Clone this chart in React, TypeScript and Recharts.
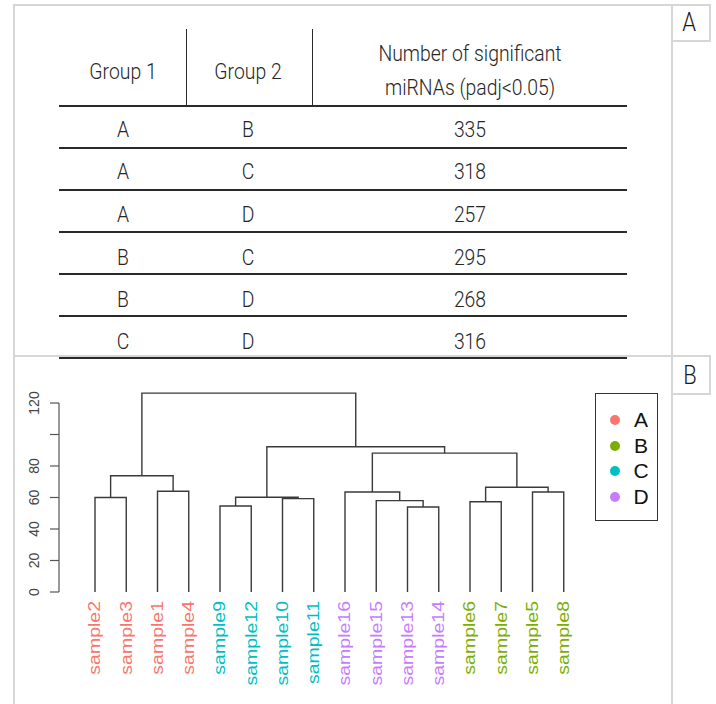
import React from "react";
import { LineChart, Line, XAxis, YAxis, ReferenceLine, Legend } from "recharts";

// ---------- Panel A: table data ----------
const group1 = ["A", "A", "A", "B", "B", "C"];
const group2 = ["B", "C", "D", "C", "D", "D"];
const sigCounts = [335, 318, 257, 295, 268, 316];

// ---------- Panel B: dendrogram data ----------
const leafLabels = [
  "sample2", "sample3", "sample1", "sample4",
  "sample9", "sample12", "sample10", "sample11",
  "sample16", "sample15", "sample13", "sample14",
  "sample6", "sample7", "sample5", "sample8",
];
const leafGroups = ["A", "A", "A", "A", "C", "C", "C", "C", "D", "D", "D", "D", "B", "B", "B", "B"];
const groupNames = ["A", "B", "C", "D"];
const groupColors = ["#F8766D", "#7CAE00", "#00BFC4", "#C77CFF"];

// merges (hclust style): left child, right child, height; "mN" = N-th merge
const mergeLeft = ["sample2", "sample1", "m1", "sample9", "sample10", "m4", "sample13", "sample15", "sample16", "sample6", "sample5", "m10", "m9", "m6", "m3"];
const mergeRight = ["sample3", "sample4", "m2", "sample12", "sample11", "m5", "sample14", "m7", "m8", "sample7", "sample8", "m11", "m12", "m13", "m14"];
const mergeHeight = [60, 64, 73.8, 54.6, 59.3, 60.2, 54, 58, 63.5, 57.3, 63.5, 66.5, 88.2, 92.2, 126.3];

const yTicks = [0, 20, 40, 60, 80, 100, 120];
const yTickLabels = ["0", "20", "40", "60", "80", "", "120"];

// ---------- layout helpers ----------
const X_MIN = -1.152;
const X_MAX = 16.848;

type Pt = { x: number; y: number };
const nodePos: Record<string, { x: number; h: number }> = {};
leafLabels.forEach((l, i) => {
  nodePos[l] = { x: i, h: 0 };
});
const links: Pt[][] = mergeLeft.map((l, i) => {
  const a = nodePos[l];
  const b = nodePos[mergeRight[i]];
  const H = mergeHeight[i];
  nodePos["m" + (i + 1)] = { x: (a.x + b.x) / 2, h: H };
  return [
    { x: a.x, y: a.h },
    { x: a.x, y: H },
    { x: b.x, y: H },
    { x: b.x, y: b.h },
  ];
});

const tableFont = "Roboto, 'Noto Sans', sans-serif";
const rFont = "'Liberation Sans', Arial, Helvetica, sans-serif";

const colCenters = [123, 248, 470];
const rowCenters = [130, 172, 215, 258, 300, 342];
const rowLines = [106, 148, 190, 232, 274, 316, 358];

function TextAt({ cx, cy, size, children, color = "#262626", font = tableFont, sx = 0.88 }: any) {
  return (
    <div
      style={{
        position: "absolute",
        left: cx - 150,
        width: 300,
        top: cy - size * 0.6,
        height: size * 1.2,
        lineHeight: `${size * 1.2}px`,
        fontSize: size,
        fontFamily: font,
        fontWeight: 300,
        color,
        textAlign: "center",
        whiteSpace: "nowrap",
        transform: `scaleX(${sx})`,
        transformOrigin: "center",
      }}
    >
      {children}
    </div>
  );
}

function Box({ left, top, width, height, bg }: any) {
  return <div style={{ position: "absolute", left, top, width, height, background: bg }} />;
}

const LeafTick = (props: any) => {
  const { x, y, payload } = props;
  const i = Math.round(payload.value);
  const label = leafLabels[i];
  if (label === undefined) return null;
  const color = groupColors[groupNames.indexOf(leafGroups[i])];
  return (
    <g transform={`translate(${x},${y}) rotate(-90) scale(1,0.8)`}>
      <text x={0} y={0} dy="0.35em" textAnchor="end" fill={color} fontSize={19.5} fontFamily={rFont}>
        {label}
      </text>
    </g>
  );
};

const HeightTick = (props: any) => {
  const { x, y, payload } = props;
  const idx = yTicks.indexOf(payload.value);
  const label = idx >= 0 ? yTickLabels[idx] : "";
  if (!label) return null;
  return (
    <text
      x={x}
      y={y}
      dy="0.35em"
      transform={`rotate(-90 ${x} ${y})`}
      textAnchor="middle"
      fill="#444"
      fontSize={14}
      fontFamily={rFont}
    >
      {label}
    </text>
  );
};

const GroupLegend = () => (
  <div
    style={{
      width: 63,
      height: 128,
      border: "1.5px solid #333",
      boxSizing: "border-box",
      position: "relative",
      background: "#fff",
    }}
  >
    {groupNames.map((g, i) => (
      <div key={g}>
        <div
          style={{
            position: "absolute",
            left: 14,
            top: 26 + i * 25.5 - 5,
            width: 10,
            height: 10,
            borderRadius: 5,
            background: groupColors[i],
          }}
        />
        <div
          style={{
            position: "absolute",
            left: 30,
            width: 30,
            top: 26 + i * 25.5 - 13,
            height: 26,
            lineHeight: "26px",
            fontSize: 21,
            fontFamily: rFont,
            color: "#111",
            textAlign: "center",
          }}
        >
          {g}
        </div>
      </div>
    ))}
  </div>
);

export default function App() {
  const frame = "#d6d6d6";
  return (
    <div style={{ position: "absolute", left: 0, top: 0, width: 716, height: 704, background: "#fff", overflow: "hidden" }}>
      {/* frame */}
      <Box left={13} top={4} width={2} height={700} bg={frame} />
      <Box left={13} top={4} width={698} height={2} bg={frame} />
      <Box left={671} top={4} width={2} height={700} bg={frame} />
      <Box left={709} top={4} width={2} height={38} bg={frame} />
      <Box left={671} top={40} width={40} height={2} bg={frame} />
      <Box left={13} top={355} width={698} height={2} bg={frame} />
      <Box left={709} top={355} width={2} height={40} bg={frame} />
      <Box left={671} top={393} width={40} height={2} bg={frame} />
      <TextAt cx={689} cy={23} size={25} color="#1a1a1a">A</TextAt>
      <TextAt cx={690} cy={376} size={25} color="#1a1a1a">B</TextAt>

      {/* table lines */}
      {rowLines.map((y, i) => (
        <Box key={i} left={59} top={y - 0.75} width={568} height={i === rowLines.length - 1 ? 2 : 1.5} bg="#2a2a2a" />
      ))}
      <Box left={185.5} top={29} width={1.5} height={77} bg="#2a2a2a" />
      <Box left={311.5} top={29} width={1.5} height={77} bg="#2a2a2a" />

      {/* table header */}
      <TextAt cx={colCenters[0]} cy={72} size={22}>Group 1</TextAt>
      <TextAt cx={colCenters[1]} cy={72} size={22}>Group 2</TextAt>
      <TextAt cx={colCenters[2]} cy={54} size={22}>Number of significant</TextAt>
      <TextAt cx={colCenters[2]} cy={88} size={22}>miRNAs (padj&lt;0.05)</TextAt>

      {/* table body */}
      {sigCounts.map((v, i) => (
        <React.Fragment key={i}>
          <TextAt cx={colCenters[0]} cy={rowCenters[i]} size={22}>{group1[i]}</TextAt>
          <TextAt cx={colCenters[1]} cy={rowCenters[i]} size={22}>{group2[i]}</TextAt>
          <TextAt cx={colCenters[2]} cy={rowCenters[i]} size={22}>{v}</TextAt>
        </React.Fragment>
      ))}

      {/* dendrogram */}
      <div style={{ position: "absolute", left: 0, top: 360 }}>
        <LineChart width={716} height={344} margin={{ top: 27.25, right: 94.5, bottom: 12, left: 14 }}>
          <XAxis
            type="number"
            dataKey="x"
            domain={[X_MIN, X_MAX]}
            ticks={leafLabels.map((_, i) => i)}
            interval={0}
            axisLine={false}
            tickLine={false}
            tickSize={0}
            tickMargin={9}
            height={100}
            tick={<LeafTick />}
          />
          <YAxis
            type="number"
            domain={[0, 130]}
            ticks={yTicks}
            interval={0}
            width={45}
            axisLine={false}
            tickLine={{ stroke: "#555", strokeWidth: 1.2 }}
            tickSize={9}
            tickMargin={16}
            tick={<HeightTick />}
          />
          <ReferenceLine
            segment={[
              { x: X_MIN, y: 0 },
              { x: X_MIN, y: 120 },
            ]}
            stroke="#555"
            strokeWidth={1.2}
            ifOverflow="visible"
          />
          {links.map((d, i) => (
            <Line
              key={i}
              data={d}
              dataKey="y"
              type="linear"
              stroke="#3a3a3a"
              strokeWidth={1.4}
              dot={false}
              activeDot={false}
              isAnimationActive={false}
              legendType="none"
            />
          ))}
          <Legend
            layout="vertical"
            align="center"
            verticalAlign="middle"
            content={<GroupLegend />}
            wrapperStyle={{ position: "absolute", left: 595, top: 33, width: 63, height: 128 }}
          />
        </LineChart>
      </div>
    </div>
  );
}
